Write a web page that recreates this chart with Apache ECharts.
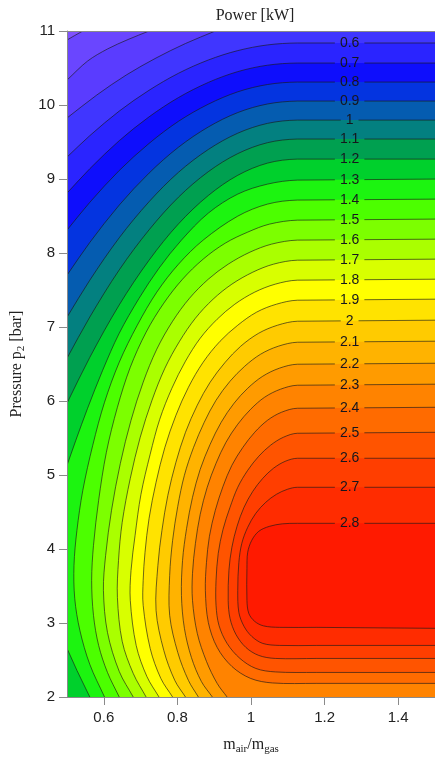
<!DOCTYPE html>
<html><head><meta charset="utf-8">
<script src="https://cdn.jsdelivr.net/npm/echarts@6/dist/echarts.min.js"></script>
<style>html,body{margin:0;padding:0;background:#fff}#c{width:435px;height:762px}</style>
</head><body><div id="c"></div>
<script>
// ---- data ----
const xTicks = [0.6, 0.8, 1, 1.2, 1.4];
const yTicks = [2, 3, 4, 5, 6, 7, 8, 9, 10, 11];
const levels = [0.3,0.4,0.5,0.6,0.7,0.8,0.9,1.0,1.1,1.2,1.3,1.4,1.5,1.6,1.7,1.8,1.9,2.0,2.1,2.2,2.3,2.4,2.5,2.6,2.7,2.8];
const baseColor = '#8052ff';
const bandColors = ['#6a46ff','#5a3cff','#4036ff','#2a24ff','#0e0efc','#0434e0','#055cb0','#038080','#00a050','#00d02c',
  '#1cf410','#4cff00','#7cff00','#aaff00','#d8ff00','#ffff00','#ffe300','#ffcb00','#ffb300','#ff9b00',
  '#ff8300','#ff6b00','#ff5400','#ff3e00','#ff2c00','#ff1a00'];

// contour lines: each level is a list of pieces, each piece a list of [m_air/m_gas, p2]
const c03 = [[[0.543,11],[0.521,10.939],[0.5,10.878]]];
const c04 = [[[0.723,11],[0.666,10.885],[0.610,10.757],[0.556,10.594],[0.5,10.337]]];
const c05 = [[[0.903,11],[0.822,10.831],[0.742,10.635],[0.661,10.405],[0.581,10.135],[0.5,9.824]]];
const c06 = [[[1.5,10.838],[1.126,10.838],[1.045,10.812],[0.964,10.735],[0.884,10.608],[0.803,10.429],[0.723,10.199],[0.642,9.918],[0.562,9.586],[0.5,9.296]]];
const c07 = [[[1.5,10.567],[1.126,10.567],[1.045,10.538],[0.964,10.451],[0.884,10.305],[0.803,10.101],[0.723,9.840],[0.642,9.518],[0.562,9.139],[0.5,8.809]]];
const c08 = [[[1.5,10.310],[1.126,10.310],[1.045,10.277],[0.964,10.178],[0.884,10.011],[0.803,9.780],[0.723,9.481],[0.642,9.115],[0.562,8.685],[0.5,8.309]]];
const c09 = [[[1.5,10.053],[1.126,10.053],[1.045,10.014],[0.964,9.898],[0.884,9.703],[0.803,9.430],[0.723,9.080],[0.642,8.648],[0.562,8.143],[0.5,7.700]]];
const c10 = [[[1.5,9.796],[1.126,9.796],[1.045,9.752],[0.964,9.619],[0.884,9.399],[0.803,9.091],[0.723,8.693],[0.642,8.206],[0.562,7.633],[0.5,7.132]]];
const c11 = [[[1.5,9.540],[1.126,9.540],[1.045,9.491],[0.964,9.343],[0.884,9.099],[0.803,8.755],[0.723,8.313],[0.642,7.772],[0.562,7.135],[0.5,6.578]]];
const c12 = [[[1.5,9.269],[1.126,9.269],[1.045,9.215],[0.964,9.050],[0.884,8.777],[0.803,8.394],[0.723,7.903],[0.642,7.299],[0.562,6.590],[0.5,5.970]]];
const c13 = [[[1.5,8.999],[1.126,8.985],[1.045,8.931],[0.964,8.796],[0.884,8.539],[0.811,8.174],[0.750,7.795],[0.696,7.389],[0.642,6.916],[0.597,6.416],[0.556,5.902],[0.524,5.469],[0.5,5.131]],
             [[0.5,2.657],[0.527,2.359],[0.562,2.0]]];
const c14 = [[[1.5,8.728],[1.126,8.715],[1.045,8.661],[0.964,8.498],[0.870,8.174],[0.803,7.849],[0.744,7.471],[0.691,7.024],[0.642,6.524],[0.602,5.983],[0.570,5.402],[0.543,4.793],[0.527,4.252],[0.519,3.779],[0.521,3.333],[0.535,2.900],[0.562,2.440],[0.602,2.0]]];
const c15 = [[[1.5,8.458],[1.126,8.444],[1.050,8.390],[0.991,8.282],[0.930,8.133],[0.870,7.917],[0.814,7.646],[0.763,7.322],[0.715,6.930],[0.672,6.456],[0.637,5.915],[0.607,5.307],[0.586,4.658],[0.572,4.049],[0.567,3.576],[0.572,3.103],[0.586,2.697],[0.610,2.332],[0.642,2.0]]];
const c16 = [[[1.5,8.187],[1.126,8.174],[1.056,8.120],[0.997,8.011],[0.938,7.849],[0.884,7.646],[0.833,7.389],[0.787,7.078],[0.744,6.700],[0.707,6.254],[0.674,5.740],[0.645,5.158],[0.621,4.523],[0.605,3.914],[0.599,3.441],[0.610,2.873],[0.642,2.345],[0.680,2.0]]];
const c17 = [[[1.5,7.917],[1.126,7.903],[1.061,7.849],[1.005,7.741],[0.948,7.579],[0.897,7.376],[0.849,7.119],[0.806,6.808],[0.766,6.443],[0.731,6.010],[0.699,5.510],[0.672,4.955],[0.650,4.360],[0.640,3.846],[0.637,3.346],[0.650,2.752],[0.680,2.318],[0.715,2.0]]];
const c18 = [[[1.5,7.646],[1.126,7.633],[1.066,7.579],[1.010,7.471],[0.956,7.308],[0.908,7.105],[0.862,6.848],[0.822,6.538],[0.785,6.172],[0.752,5.753],[0.726,5.280],[0.701,4.739],[0.685,4.184],[0.674,3.711],[0.672,3.306],[0.688,2.697],[0.717,2.278],[0.750,2.0]]];
const c19 = [[[1.5,7.376],[1.126,7.362],[1.069,7.308],[1.015,7.200],[0.964,7.024],[0.916,6.808],[0.870,6.524],[0.830,6.186],[0.796,5.807],[0.766,5.374],[0.742,4.901],[0.723,4.414],[0.712,3.955],[0.707,3.576],[0.707,3.238],[0.726,2.657],[0.755,2.251],[0.787,2.0]]];
const c20 = [[[1.5,7.092],[1.126,7.078],[1.072,7.024],[1.021,6.916],[0.972,6.740],[0.930,6.524],[0.889,6.254],[0.854,5.943],[0.822,5.577],[0.796,5.172],[0.774,4.725],[0.758,4.252],[0.747,3.779],[0.742,3.171],[0.763,2.630],[0.793,2.224],[0.822,2.0]]];
const c21 = [[[1.5,6.808],[1.126,6.794],[1.074,6.740],[1.026,6.632],[0.983,6.470],[0.943,6.267],[0.905,6.010],[0.873,5.713],[0.844,5.374],[0.819,4.996],[0.801,4.577],[0.787,4.117],[0.779,3.643],[0.779,3.103],[0.801,2.602],[0.830,2.224],[0.857,2.0]]];
const c22 = [[[1.5,6.510],[1.126,6.497],[1.077,6.443],[1.032,6.335],[0.991,6.172],[0.954,5.970],[0.919,5.713],[0.889,5.415],[0.862,5.077],[0.841,4.698],[0.825,4.279],[0.814,3.846],[0.811,3.373],[0.819,2.928],[0.838,2.535],[0.865,2.211],[0.895,2.0]]];
const c23 = [[[1.5,6.227],[1.126,6.213],[1.080,6.159],[1.037,6.051],[0.999,5.888],[0.964,5.686],[0.932,5.442],[0.905,5.158],[0.881,4.834],[0.862,4.469],[0.849,4.076],[0.841,3.671],[0.841,3.306],[0.854,2.860],[0.879,2.481],[0.908,2.184],[0.935,2.0]]];
const c24 = [[[1.5,5.915],[1.126,5.902],[1.083,5.848],[1.045,5.740],[1.010,5.577],[0.978,5.374],[0.948,5.131],[0.924,4.847],[0.903,4.523],[0.887,4.171],[0.879,3.819],[0.876,3.441],[0.884,3.008],[0.908,2.670],[0.948,2.413],[0.999,2.251],[1.058,2.190],[1.179,2.184],[1.5,2.184]]];
const c25 = [[[1.5,5.577],[1.126,5.564],[1.088,5.510],[1.053,5.402],[1.021,5.253],[0.991,5.063],[0.964,4.834],[0.943,4.563],[0.924,4.266],[0.911,3.941],[0.905,3.576],[0.905,3.238],[0.913,2.968],[0.935,2.724],[0.970,2.521],[1.013,2.386],[1.066,2.339],[1.179,2.332],[1.5,2.332]]];
const c26 = [[[1.5,5.226],[1.126,5.226],[1.093,5.185],[1.061,5.091],[1.032,4.955],[1.005,4.780],[0.981,4.563],[0.962,4.306],[0.948,4.022],[0.940,3.711],[0.938,3.306],[0.943,3.062],[0.959,2.846],[0.986,2.670],[1.021,2.562],[1.066,2.521],[1.179,2.521],[1.5,2.521]]];
const c27 = [[[1.5,4.834],[1.126,4.834],[1.099,4.807],[1.069,4.739],[1.040,4.631],[1.013,4.482],[0.991,4.293],[0.975,4.076],[0.967,3.819],[0.964,3.441],[0.967,3.143],[0.981,2.955],[1.002,2.819],[1.032,2.724],[1.077,2.697],[1.179,2.697],[1.5,2.697]]];
const c28 = [[[1.5,4.347],[1.126,4.347],[1.085,4.340],[1.050,4.306],[1.021,4.239],[1.002,4.117],[0.991,3.955],[0.989,3.738],[0.989,3.306],[0.994,3.130],[1.010,3.022],[1.034,2.961],[1.077,2.941],[1.179,2.941],[1.5,2.928]]];
const contours = [c03,c04,c05,c06,c07,c08,c09,c10,c11,c12,c13,c14,c15,c16,c17,c18,c19,c20,c21,c22,c23,c24,c25,c26,c27,c28];
const labelX = 1.268;

// ---- drawing ----
const X0 = 0.5, X1 = 1.5, Y0 = 2, Y1 = 11;
const W = X1 - X0, H = Y1 - Y0, PER = 2 * (W + H);
const corners = [[[X0,Y1],0],[[X0,Y0],H],[[X1,Y0],H+W],[[X1,Y1],2*H+W]];
function sParam(p){
  const e = 1e-6;
  if (Math.abs(p[0]-X0) < e) return Y1 - p[1];
  if (Math.abs(p[1]-Y0) < e) return H + (p[0]-X0);
  if (Math.abs(p[0]-X1) < e) return H + W + (p[1]-Y0);
  return 2*H + W + (X1 - p[0]);
}
function closing(a, b){
  const sa = sParam(a); let sb = sParam(b);
  if (sb < sa) sb += PER;
  const out = [];
  corners.forEach(([c,s]) => { [s, s+PER].forEach(v => { if (v > sa + 1e-9 && v < sb - 1e-9) out.push([v,c]); }); });
  out.sort((u,v)=>u[0]-v[0]);
  return out.map(o=>o[1]);
}
// smooth curve through the read points (chord-scaled cardinal spline)
function pieceCmds(P, straightFirst, from){
  const n = P.length, d = [], T = [];
  for (let i=0;i<n-1;i++) d.push(Math.hypot(P[i+1][0]-P[i][0], P[i+1][1]-P[i][1]) || 1e-6);
  for (let i=0;i<n;i++){
    let a, b, s;
    if (i===0){ a=P[0]; b=P[1]; s=d[0]; }
    else if (i===n-1){ a=P[n-2]; b=P[n-1]; s=d[n-2]; }
    else { a=P[i-1]; b=P[i+1]; s=d[i-1]+d[i]; }
    T.push([(b[0]-a[0])/s, (b[1]-a[1])/s]);
  }
  let out='';
  for (let k=from||0;k<n-1;k++){
    if (k===0 && straightFirst){ out+=' L'+P[1][0]+' '+P[1][1]; continue; }
    const h = d[k]/3;
    out += ' C'+(P[k][0]+T[k][0]*h)+' '+(P[k][1]+T[k][1]*h)+' '+(P[k+1][0]-T[k+1][0]*h)+' '+(P[k+1][1]-T[k+1][1]*h)+' '+P[k+1][0]+' '+P[k+1][1];
  }
  return out;
}
function fmt(l){ return String(Math.round(l*10)/10); }

function renderFill(params, api){
  const pieces = contours[params.dataIndex];
  const cd = p => api.coord(p);
  let d='';
  pieces.forEach((pc,j)=>{
    const P = pc.map(cd);
    d += (j===0?'M':' L') + P[0][0] + ' ' + P[0][1];
    d += pieceCmds(P, Math.abs(pc[0][0]-X1)<1e-6);
    const next = pieces[(j+1)%pieces.length][0];
    closing(pc[pc.length-1], next).forEach(c=>{ const q=cd(c); d+=' L'+q[0]+' '+q[1]; });
  });
  d += ' Z';
  return {type:'path', shape:{pathData:d}, style:{fill:bandColors[params.dataIndex], stroke:null}};
}
function renderLines(params, api){
  const i = params.dataIndex, pieces = contours[i];
  const cd = p => api.coord(p);
  const children = [];
  const lineStyle = {stroke:'rgba(25,25,25,0.8)', lineWidth:0.8, fill:'none'};
  pieces.forEach((pc,j)=>{
    const P = pc.map(cd);
    const onRight = Math.abs(pc[0][0]-X1)<1e-6;
    if (j===0 && onRight){
      const txt = fmt(levels[i]);
      const lx = cd([labelX, pc[0][1]])[0];
      const yAt = x => P[0][1] + (x-P[0][0])/(P[1][0]-P[0][0])*(P[1][1]-P[0][1]);
      const ly = yAt(lx);
      const tw = (txt.replace('.','').length*7.8 + (txt.indexOf('.')>=0?3.9:0));
      const hw = tw/2 + 5;
      children.push({type:'path', shape:{pathData:'M'+P[0][0]+' '+P[0][1]+' L'+(lx+hw)+' '+yAt(lx+hw)}, style:lineStyle});
      children.push({type:'path', shape:{pathData:'M'+(lx-hw)+' '+yAt(lx-hw)+' L'+P[1][0]+' '+P[1][1]+pieceCmds(P,true,1)}, style:lineStyle});
      children.push({type:'text', style:{text:txt, x:lx, y:ly, align:'center', verticalAlign:'middle', fill:'#16161e', fontSize:14, fontFamily:'Liberation Sans, Arial, sans-serif'}});
    } else {
      children.push({type:'path', shape:{pathData:'M'+P[0][0]+' '+P[0][1]+pieceCmds(P,onRight)}, style:lineStyle});
    }
  });
  return {type:'group', children};
}

const serif = 'Liberation Serif, Times New Roman, serif';
const sans = 'Liberation Sans, Arial, sans-serif';
const axisColor = '#8a8a8a';
const chart = echarts.init(document.getElementById('c'), null, {renderer:'canvas'});
chart.setOption({
  animation:false,
  backgroundColor:'#fff',
  graphic:[{type:'text', x:255, y:8, style:{text:'Power [kW]', align:'center', verticalAlign:'top', fill:'#222', fontSize:16, fontFamily:serif}}],
  grid:{left:67, top:31, width:372, height:666, show:true, backgroundColor:baseColor, borderWidth:0},
  xAxis:[{type:'value', min:X0, max:X1, z:10,
    axisLine:{show:true, onZero:false, lineStyle:{color:axisColor}},
    axisTick:{show:true, length:8, customValues:xTicks, lineStyle:{color:axisColor}},
    axisLabel:{customValues:xTicks, color:'#222', fontSize:15, fontFamily:sans, margin:13},
    splitLine:{show:false},
    name:'{a|m}{s|air}{a|/m}{s|gas}', nameLocation:'middle', nameGap:38,
    nameTextStyle:{rich:{a:{fontFamily:serif, fontSize:16, color:'#222', lineHeight:20}, s:{fontFamily:serif, fontSize:11, color:'#222', lineHeight:20, verticalAlign:'bottom'}}}
  },{type:'value', position:'top', min:X0, max:X1, z:10, axisLine:{show:true, onZero:false, lineStyle:{color:axisColor}}, axisTick:{show:false}, axisLabel:{show:false}, splitLine:{show:false}}],
  yAxis:{type:'value', min:Y0, max:Y1, interval:1, z:10,
    axisLine:{show:true, onZero:false, lineStyle:{color:axisColor}},
    axisTick:{show:true, length:8, lineStyle:{color:axisColor}},
    axisLabel:{color:'#222', fontSize:15, fontFamily:sans, margin:12},
    splitLine:{show:false},
    name:'{a|Pressure p}{s|2}{a| [bar]}', nameLocation:'middle', nameGap:40, nameRotate:90,
    nameTextStyle:{rich:{a:{fontFamily:serif, fontSize:16, color:'#222', lineHeight:20}, s:{fontFamily:serif, fontSize:11, color:'#222', lineHeight:20, verticalAlign:'bottom'}}}
  },
  series:[
    {type:'custom', coordinateSystem:'cartesian2d', clip:true, z:2, silent:true, renderItem:renderFill, data:levels.map(l=>[1,5])},
    {type:'custom', coordinateSystem:'cartesian2d', clip:true, z:3, silent:true, renderItem:renderLines, data:levels.map(l=>[1,5])}
  ]
});
</script></body></html>
